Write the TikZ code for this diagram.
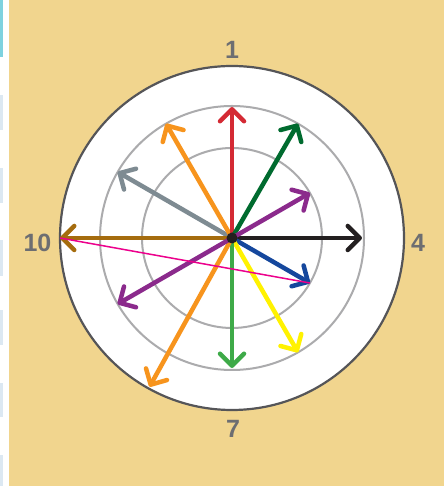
\documentclass[tikz,border=0pt]{standalone}
\usepackage{fontspec}
\setmainfont{Liberation Sans}
\usepackage{xcolor}
\usetikzlibrary{arrows.meta,calc}

\definecolor{bgtan}{HTML}{F1D58E}
\definecolor{stripblue}{HTML}{DCE8F2}
\definecolor{stripteal}{HTML}{7ED2DF}
\definecolor{rimgray}{HTML}{555558}
\definecolor{ringgray}{HTML}{ABABAD}
\definecolor{numgray}{HTML}{6D6E71}
\definecolor{cred}{HTML}{D42A34}
\definecolor{cdarkgreen}{HTML}{006B2F}
\definecolor{corange}{HTML}{F7941D}
\definecolor{cslate}{HTML}{7E8B92}
\definecolor{cbrown}{HTML}{A56C0E}
\definecolor{cblack}{HTML}{231F20}
\definecolor{cpurple}{HTML}{8B2A8C}
\definecolor{cblue}{HTML}{15479D}
\definecolor{cpink}{HTML}{EC008C}
\definecolor{cyellow}{HTML}{FFF200}
\definecolor{cgreen}{HTML}{3EAA48}

\begin{document}
\begin{tikzpicture}[x=1pt,y=1pt,
  vec/.style={line width=4.5pt, line cap=round, draw=#1,
    -{Straight Barb[length=12pt,width=24pt,round]}},
  ring/.style={draw=ringgray, line width=2pt},
  num/.style={text=numgray, font=\fontsize{25}{25}\selectfont\bfseries}]
\useasboundingbox (0,0) rectangle (444,486);

% Background and left strip
\fill[bgtan] (9,0) rectangle (444,486);
\fill[stripteal] (0,429) rectangle (2.5,486);
\fill[stripblue] (0,356) rectangle (3,391);
\fill[stripblue] (0,283) rectangle (3,318);
\fill[stripblue] (0,210) rectangle (3,246);
\fill[stripblue] (0,141) rectangle (3,176);
\fill[stripblue] (0,69) rectangle (3,103);
\fill[stripblue] (0,0) rectangle (3,31);

% Dial
\coordinate (c) at (232,248);
\draw[fill=white, draw=rimgray, line width=2.2pt] (c) circle (172);
\draw[ring] (c) circle (132);
\draw[ring] (c) circle (90);

% Hour labels
\node[num] (h1) at (232,436.5) {1};
\node[num] (h4) at (418,243) {4};
\node[num] (h7) at (233,57) {7};
\node[num] (h10) at (37.5,243.5) {10};

% Arrow tips
\coordinate (tred) at ($(c)+(90:131)$);
\coordinate (tdkgreen) at ($(c)+(60:132)$);
\coordinate (torangeup) at ($(c)+(120:132)$);
\coordinate (tslate) at ($(c)+(150:132)$);
\coordinate (tbrown) at ($(c)+(180:172)$);
\coordinate (tblack) at ($(c)+(0:130)$);
\coordinate (tpurpleup) at ($(c)+(30:90)$);
\coordinate (tblue) at ($(c)+(-30:90)$);
\coordinate (tpurpledn) at ($(c)+(210:132)$);
\coordinate (tyellow) at ($(c)+(-60:132)$);
\coordinate (tgreen) at ($(c)+(-90:130)$);
\coordinate (torangedn) at ($(c)+(-119:170)$);

% Arrows
\draw[vec=cslate] (c) -- (tslate);
\draw[vec=corange] (c) -- (torangeup);
\draw[vec=cred] (c) -- (tred);
\draw[vec=cdarkgreen] (c) -- (tdkgreen);
\draw[vec=cbrown] (c) -- (tbrown);
\draw[vec=cblack] (c) -- (tblack);
\draw[vec=cpurple] (c) -- (tpurpleup);
\draw[vec=cblue] (c) -- (tblue);
\draw[vec=cyellow] (c) -- (tyellow);
\draw[vec=cgreen] (c) -- (tgreen);
\draw[vec=corange] (c) -- (torangedn);
\draw[vec=cpurple] (c) -- (tpurpledn);

% Thin chord
\draw[cpink, line width=1.5pt] (tbrown) -- (tblue);

% Centre dot
\fill[cblack] (c) circle (5.5);
\end{tikzpicture}
\end{document}
